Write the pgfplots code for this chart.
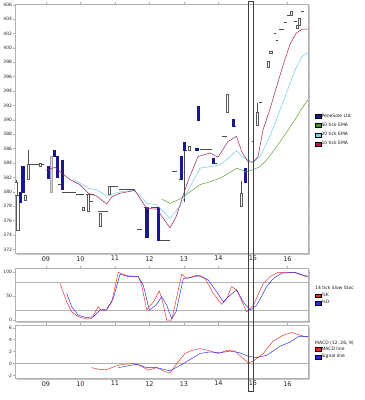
\documentclass[border=0pt]{standalone}
\usepackage{fontspec}
\setmainfont{DejaVu Sans}
\usepackage{pgfplots}
\pgfplotsset{compat=1.18}
\usetikzlibrary{shadows}
\definecolor{navy}{RGB}{25,25,140}
\definecolor{ema10}{RGB}{155,35,95}
\definecolor{ema20}{RGB}{110,205,235}
\definecolor{ema50}{RGB}{95,160,50}
\definecolor{lg10}{RGB}{190,20,75}
\definecolor{lg20}{RGB}{130,200,245}
\definecolor{lg50}{RGB}{60,150,40}
\definecolor{kred}{RGB}{235,40,40}
\definecolor{dblue}{RGB}{40,40,235}
\tikzset{cblue/.style={draw=navy, fill=navy},
         chol/.style={draw=gray!70!black, fill=white},
         cgray/.style={draw=gray!70, fill=gray!30}}
% candle: x, low, body low, body high, high, style
\newcommand{\cdl}[6]{%
  \pgfmathsetmacro\xl{#1-1.1}\pgfmathsetmacro\xr{#1+1.1}%
  \edef\cdltmp{\noexpand\addplot[gray!60!black, line width=0.4pt, forget plot] coordinates {(#1,#2)(#1,#5)};%
  \noexpand\addplot[#6, line width=0.4pt, forget plot] coordinates {(\xl,#3)(\xr,#3)(\xr,#4)(\xl,#4)} --cycle;}%
  \cdltmp}
\newcommand{\smallfont}{\fontsize{4.5}{5}\selectfont}
\pgfplotsset{panel/.style={
  scale only axis, width=293pt, xmin=15, xmax=308,
  anchor=north west,
  axis line style={gray!60}, tick style={gray!60, line width=0.4pt},
  xtick={46,80.5,115,149.5,184,218.5,253,287.5},
  xticklabels={09,10,11,12,13,14,15,16},
  tick align=outside, major tick length=2pt,
  yticklabel style={font=\smallfont, text=gray!30!black, inner sep=0.8pt},
  xticklabel style={font=\fontsize{6.5}{7}\selectfont, text=gray!30!black, inner sep=1pt},
  /pgf/number format/assume math mode=true,
  axis background/.style={fill=white, drop shadow={shadow xshift=2.2pt, shadow yshift=-2.2pt, fill=gray!45, opacity=1}},
  legend image code/.code={\draw[#1, draw=black, line width=0.3pt] (0pt,-1.9pt) rectangle (6pt,1.9pt);},
  legend style={draw=none, fill=none, font=\smallfont, text=gray!20!black, inner sep=0pt,
    nodes={inner sep=0.6pt}},
  legend cell align=left,
}}
\begin{document}
\begin{tikzpicture}
\useasboundingbox (0,0) rectangle (365pt,-400pt);
% ---------------- main price panel ----------------
\begin{axis}[panel, at={(15pt,-4pt)}, height=249pt,
  ymin=371.5, ymax=406.1, ytick={372,374,...,406},
  legend style={at={(axis description cs:1.022,0.562)}, anchor=north west, row sep=3.1pt}]
\addlegendimage{fill=navy}\addlegendentry{PeneSole Ltd}
\addlegendimage{fill=lg50}\addlegendentry{50 tick EMA}
\addlegendimage{fill=lg20}\addlegendentry{20 tick EMA}
\addlegendimage{fill=lg10}\addlegendentry{10 tick EMA}
% flat (doji) candles
\addplot[gray!60!black, line width=0.5pt, forget plot, unbounded coords=jump] coordinates {
(28,383.9)(44,383.9) (0,nan)
(58.5,381.1)(61,381.1) (0,nan)
(62,380.0)(76,380.0) (0,nan)
(76,379.6)(84,379.6) (0,nan)
(86.5,379.7)(94,379.7) (0,nan)
(90.5,378.75)(93,378.75) (0,nan)
(98,377.3)(108,377.3) (0,nan)
(110,380.8)(118,380.8) (0,nan)
(119,380.4)(135,380.4) (0,nan)
(137.5,374.8)(142.5,374.8) (0,nan)
(144,377.8)(149,377.8) (0,nan)
(151,377.8)(158,377.8) (0,nan)
(158,373.3)(170,373.3) (0,nan)
(171.5,382.9)(176.5,382.9) (0,nan)
(178.5,381.7)(181.5,381.7) (0,nan)
(184.5,385.8)(187,385.8) (0,nan)
(199.5,385.9)(212,385.9) (0,nan)
(213.5,384.0)(217,384.0) (0,nan)
(221.7,387.7)(226.7,387.7) (0,nan)
(233.3,389.1)(236,389.1) (0,nan)
(251.5,387.0)(254,387.0) (0,nan)
(259,392.5)(262,392.5) (0,nan)
(273.5,402.0)(276,402.0) (0,nan)
(275.5,401.1)(278,401.1) (0,nan)
(278.5,402.6)(283.5,402.6) (0,nan)
(284,403.5)(287,403.5) (0,nan)
(287,404.6)(290,404.6) (0,nan)
(294,403.7)(296.5,403.7) (0,nan)
(300.5,405.1)(303.5,405.1)
};
\cdl{15.8}{379.4}{379.6}{381.4}{381.6}{chol}
\cdl{17.8}{374.7}{374.7}{379.6}{379.6}{chol}
\cdl{20.1}{378.6}{378.6}{379.9}{379.9}{cblue}
\cdl{22.8}{379.9}{379.9}{383.6}{383.6}{cblue}
\cdl{25.3}{378.9}{378.9}{379.5}{379.5}{chol}
\cdl{28.3}{381.8}{381.8}{383.9}{385.8}{chol}
\cdl{40.5}{383.6}{383.6}{384.0}{384.0}{chol}
\cdl{48.3}{381.9}{381.9}{383.6}{383.6}{cblue}
\cdl{51.5}{379.9}{379.9}{384.9}{384.9}{cgray}
\cdl{54.3}{384.9}{384.9}{385.8}{385.8}{cblue}
\cdl{57.3}{382.1}{382.1}{384.9}{384.9}{cblue}
\cdl{62.3}{380.4}{380.4}{384.4}{384.4}{cblue}
\cdl{83.3}{377.4}{377.4}{377.8}{377.8}{chol}
\cdl{88.3}{377.3}{377.3}{379.7}{379.7}{chol}
\cdl{100}{375.2}{375.2}{377.1}{377.1}{chol}
\cdl{109}{379.7}{379.7}{380.8}{380.8}{chol}
\cdl{146.7}{373.7}{373.7}{377.7}{377.7}{cblue}
\cdl{158.3}{373.3}{373.3}{377.8}{377.8}{cblue}
\cdl{181.5}{381.7}{381.7}{384.9}{384.9}{cblue}
\cdl{184.5}{378.6}{385.8}{386.9}{386.9}{cblue}
\cdl{189.5}{385.8}{385.8}{386.4}{386.4}{chol}
\cdl{196.7}{385.8}{385.8}{386.1}{386.1}{cblue}
\cdl{198.3}{389.9}{389.9}{391.9}{391.9}{cblue}
\cdl{213.5}{384.0}{384.0}{384.7}{384.7}{cblue}
\cdl{227.5}{391.0}{391.0}{393.5}{393.5}{chol}
\cdl{233.3}{389.1}{389.1}{390.1}{390.1}{cblue}
\cdl{241.5}{378.0}{378.0}{379.8}{381.5}{chol}
\cdl{244.8}{381.4}{381.4}{383.3}{383.3}{cblue}
\cdl{257.5}{389.3}{389.3}{391.0}{392.3}{chol}
\cdl{267.8}{397.3}{397.3}{398.2}{398.2}{chol}
\cdl{270.7}{399.2}{399.2}{399.6}{399.6}{chol}
\cdl{291.5}{404.6}{404.6}{405.1}{405.1}{chol}
\cdl{296.8}{402.7}{402.7}{403.2}{403.2}{chol}
\cdl{299.5}{403.2}{403.2}{404.1}{404.1}{chol}
% EMAs
\addplot[ema50, line width=0.5pt, forget plot] coordinates {
(161.7,379.0)(170,378.4)(180,379.0)(190,380.0)(200,381.0)(210,381.4)(220,381.9)(230,382.7)(236.7,383.3)(240,383.1)(246.7,382.8)(253.3,383.1)(260,383.5)(268.3,384.7)(276.7,386.3)(286.7,388.3)(295,390.0)(300,391.2)(308,392.8)};
\addplot[ema20, line width=0.5pt, forget plot] coordinates {
(73.3,381.7)(80,381.2)(88.3,380.5)(96.7,380.3)(106.7,379.4)(120,380.0)(133.3,380.2)(140,379.5)(146.7,378.4)(156.7,378.2)(170,376.3)(180,378.0)(190,380.7)(200,383.3)(210,383.5)(220,383.75)(230,384.9)(236.7,385.7)(242,384.9)(248.3,384.4)(253.3,384.1)(260,384.9)(268.3,387.2)(275,389.5)(285,393.2)(295,396.9)(302,398.8)(308,399.4)};
\addplot[ema10, line width=0.5pt, forget plot] coordinates {
(45.7,383.0)(55,383.4)(60,382.8)(70,381.7)(80,381.0)(88.3,379.8)(96.7,379.4)(106.7,378.3)(111.7,379.3)(120,379.8)(135,380.2)(140,379.1)(146.7,377.7)(156.7,377.6)(170,375.0)(176,376.5)(181,378.6)(188,381.5)(198,384.9)(210,385.4)(218,384.8)(228,387.0)(236.5,387.7)(242,385.5)(248,384.2)(253,384.1)(258,384.9)(263,388.6)(270,391.5)(277,394.8)(284,398.0)(290,400.5)(296,402.0)(302,402.6)(308,402.6)};
\end{axis}
% ---------------- stochastic panel ----------------
\begin{axis}[panel, at={(15pt,-268pt)}, height=53pt, clip=false,
  ymin=-2, ymax=109, ytick={0,50,100}, xticklabels={},
  legend style={at={(axis description cs:1.022,0.54)}, anchor=north west, row sep=1.2pt}]
\addlegendimage{fill=kred}\addlegendentry{\%K}
\addlegendimage{fill=dblue}\addlegendentry{\%D}
\node[anchor=west, font=\smallfont, text=gray!20!black, inner sep=0pt] at (rel axis cs:1.024,0.63) {14 tick Slow Stoc};
\addplot[gray!60, line width=0.4pt, forget plot] coordinates {(15,80)(308,80)};
\addplot[gray!60, line width=0.4pt, forget plot] coordinates {(15,20)(308,20)};
\addplot[kred, line width=0.45pt, forget plot] coordinates {
(60,77)(66.7,38)(71.7,17)(78.3,7)(86.7,2)(91.7,3.5)(98.3,28)(101.7,19)(106.7,21)(111.7,38)(118.3,100)(126.7,93)(138.3,91)(141.7,73)(146.7,21)(153.3,38)(159.3,61)(162.7,38)(166.7,0)(171.7,0)(181.7,96)(186.7,87)(196.7,94)(205,87)(213.3,56)(221.7,33)(226.7,45)(231.7,70)(236.7,63)(246.7,17)(253.3,31)(263.3,77)(270,91)(278.3,100)(293.3,100)(303.3,93)(308,90)};
\addplot[dblue, line width=0.45pt, forget plot] coordinates {
(66.7,56)(71.7,28)(78.3,10)(86.7,5)(93.3,7)(100,21)(106.7,23)(113.3,45)(120,96)(128.3,91)(138.3,91)(143.3,73)(149.3,21)(156,31)(161.7,49)(166.7,31)(171.7,3)(176,17)(183.3,87)(190,89)(200,93)(208.3,84)(216.7,59)(223.3,38)(230,52)(236.7,63)(243.3,38)(250,21)(256.7,31)(266.7,70)(273.3,87)(281.7,98)(295,100)(305,93)(308,92)};
\end{axis}
% ---------------- MACD panel ----------------
\begin{axis}[panel, at={(15pt,-325pt)}, height=53pt, clip=false,
  ymin=-2.4, ymax=6.45, ytick={-2,0,2,4,6},
  legend style={at={(axis description cs:1.022,0.6)}, anchor=north west, row sep=1.2pt}]
\addlegendimage{fill=kred}\addlegendentry{MACD line}
\addlegendimage{fill=dblue}\addlegendentry{Signal line}
\node[anchor=west, font=\smallfont, text=gray!20!black, inner sep=0pt] at (rel axis cs:1.024,0.66) {MACD (12, 26, 9)};
\addplot[gray!60, line width=0.4pt, forget plot] coordinates {(15,0)(308,0)};
\addplot[kred, line width=0.45pt, forget plot] coordinates {
(91.7,-0.67)(100,-1.0)(106.7,-1.0)(115,-0.45)(123.3,-0.1)(133.3,0)(140,-0.3)(148.3,-1.1)(156.7,-0.67)(163.3,-1.2)(170,-1.6)(176.7,0)(185,1.7)(191.7,2.2)(200,2.5)(208.3,2.2)(218.3,1.7)(226.7,2.2)(235,2.1)(243.3,0.84)(248.3,0.1)(253.3,0.44)(263.3,1.7)(273.3,3.8)(283.3,4.75)(291.7,5.2)(300,4.75)(308,4.4)};
\addplot[dblue, line width=0.45pt, forget plot] coordinates {
(118.3,-0.67)(126.7,-0.4)(136.7,-0.1)(146.7,-0.67)(156.7,-0.67)(170,-1.2)(183.3,0)(200,1.7)(210,1.95)(220,1.8)(230,2.1)(240,1.8)(248.3,1.23)(256.7,1.0)(266.7,1.4)(280,2.9)(290,3.6)(298.3,4.5)(308,4.5)};
% cursor box spanning all panels
\addplot[gray!50!black, line width=0.5pt, forget plot] coordinates {
(248.3,-4.66)(253.3,-4.66)(253.3,60.55)(248.3,60.55)} -- cycle;
\end{axis}
\end{tikzpicture}
\end{document}
